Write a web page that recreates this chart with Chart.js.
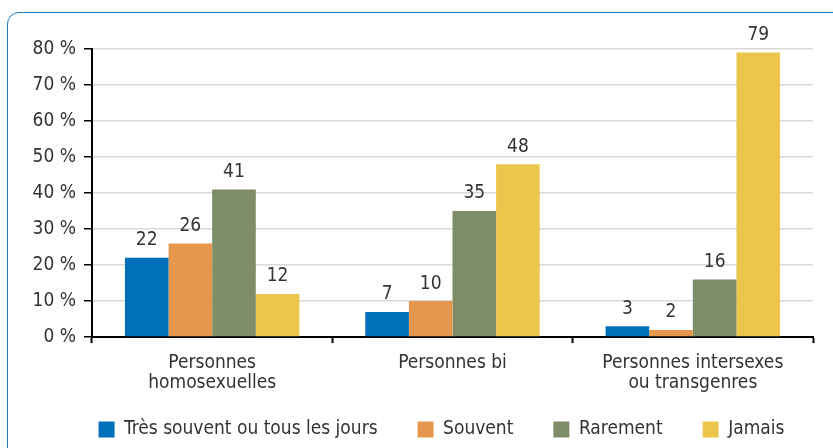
<!DOCTYPE html>
<html lang="fr">
<head>
    <meta charset="UTF-8">
    <title>Fréquence</title>
    <script src="https://cdn.jsdelivr.net/npm/chart.js"></script>
    <style>
        html, body { margin: 0; padding: 0; background: #fff; overflow: hidden; }
        .frame {
            position: absolute; left: 7px; top: 12px; width: 900px; height: 500px;
            border: 1.5px solid #1a7cc7; border-radius: 12px; box-sizing: border-box;
        }
        .wrap { position: absolute; left: 0; top: 0; width: 833px; height: 448px; }
    </style>
</head>
<body>
    <div class="frame"></div>
    <div class="wrap"><canvas id="chart" width="833" height="448"></canvas></div>
    <script>
        // Données
        const categories = [['Personnes', 'homosexuelles'], 'Personnes bi', ['Personnes intersexes', 'ou transgenres']];
        const seriesNames = ['Très souvent ou tous les jours', 'Souvent', 'Rarement', 'Jamais'];
        const tresSouvent = [22, 7, 3];
        const souvent = [26, 10, 2];
        const rarement = [41, 35, 16];
        const jamais = [12, 48, 79];
        const colors = ['#0070ba', '#e5984d', '#7f8c68', '#ecc54d'];

        const FONT = "'DejaVu Sans Condensed', 'Roboto Condensed', 'Liberation Sans Narrow', 'Roboto', sans-serif";
        const TEXT = '#333333';

        // Étiquettes de valeur au-dessus des barres
        const valueLabels = {
            id: 'valueLabels',
            afterDatasetsDraw(chart) {
                const ctx = chart.ctx;
                ctx.save();
                ctx.font = '19px ' + FONT;
                ctx.fillStyle = TEXT;
                ctx.textAlign = 'center';
                ctx.textBaseline = 'bottom';
                chart.data.datasets.forEach((ds, i) => {
                    chart.getDatasetMeta(i).data.forEach((bar, j) => {
                        ctx.fillText(ds.data[j], bar.x, bar.y - 8);
                    });
                });
                ctx.restore();
            }
        };

        // Légende recentrée sous la zone du graphique et remontée
        const legendShift = {
            id: 'legendShift',
            afterLayout(chart) {
                const lg = chart.legend;
                lg.left += 35; lg.right += 35;
                lg.top -= 23; lg.bottom -= 23;
            }
        };

        const ctx = document.getElementById('chart').getContext('2d');
        new Chart(ctx, {
            type: 'bar',
            data: {
                labels: categories,
                datasets: [tresSouvent, souvent, rarement, jamais].map((d, i) => ({
                    label: seriesNames[i],
                    data: d,
                    backgroundColor: colors[i],
                    categoryPercentage: 0.726,
                    barPercentage: 1.0
                }))
            },
            options: {
                responsive: false,
                animation: false,
                layout: { padding: { top: 49, right: 20, left: 0, bottom: -24 } },
                scales: {
                    x: {
                        grid: { drawOnChartArea: false, offset: true, tickLength: 6, tickColor: '#000', tickWidth: 2 },
                        border: { color: '#000', width: 2 },
                        ticks: { color: TEXT, font: { family: FONT, size: 19, lineHeight: 1.05 }, padding: 10, maxRotation: 0 }
                    },
                    y: {
                        min: 0, max: 80,
                        grid: { color: '#d9d9d9', tickColor: '#000', tickLength: 8, lineWidth: 1.5, tickWidth: 1.5 },
                        border: { color: '#000', width: 2 },
                        ticks: { stepSize: 10, color: TEXT, font: { family: FONT, size: 19 }, padding: 8,
                                 callback: v => v + ' %' },
                        afterFit(scale) { scale.width = 92; }
                    }
                },
                plugins: {
                    legend: {
                        position: 'bottom',
                        labels: { color: TEXT, font: { family: FONT, size: 19 }, boxWidth: 16, boxHeight: 16, padding: 40 }
                    },
                    tooltip: { enabled: false }
                }
            },
            plugins: [valueLabels, legendShift]
        });
    </script>
</body>
</html>
